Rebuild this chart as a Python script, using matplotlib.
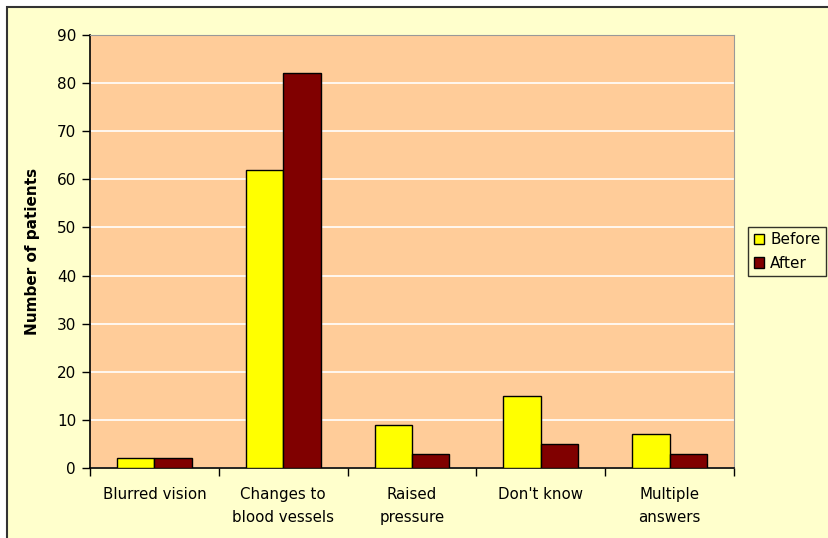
import numpy as np
import matplotlib.pyplot as plt
from matplotlib.patches import Rectangle

categories = ["Blurred vision", "Changes to\nblood vessels", "Raised\npressure",
              "Don't know", "Multiple\nanswers"]
before = [2, 62, 9, 15, 7]
after = [2, 82, 3, 5, 3]

W, H = 829, 538
fig = plt.figure(figsize=(W / 100, H / 100), dpi=100, facecolor="white")

# chart area frame (light yellow with dark border, clipped at right/bottom)
fig.patches.append(Rectangle((7 / W, -0.05), 1.1, 1 - 7 / H + 0.05,
                             transform=fig.transFigure, facecolor="#FFFFCC",
                             edgecolor="#333333", linewidth=1.5, zorder=-10))

ax = fig.add_axes([90 / W, 1 - 468 / H, (734 - 90) / W, (468 - 35) / H])
ax.set_facecolor("#FFCC99")

x = np.arange(len(categories))
bw = 0.29
ax.bar(x - bw / 2, before, bw, color="#FFFF00", edgecolor="black",
       linewidth=1, label="Before", zorder=3)
ax.bar(x + bw / 2, after, bw, color="#800000", edgecolor="black",
       linewidth=1, label="After", zorder=3)

ax.set_xlim(-0.5, len(categories) - 0.5)
ax.set_ylim(0, 90)
ax.set_yticks(range(0, 91, 10))
ax.yaxis.grid(True, color="white", linewidth=1.2, zorder=1)
ax.set_axisbelow(True)

# category separators as tick marks, labels centred under each group
ax.set_xticks(np.arange(-0.5, len(categories), 1.0))
ax.set_xticklabels([])
ax.set_xticks(x, minor=True)
ax.set_xticklabels(categories, minor=True, fontsize=10.8, linespacing=1.6)
ax.tick_params(axis="x", which="minor", length=0, pad=14)
ax.tick_params(axis="x", which="major", length=6, width=1, direction="out")
ax.tick_params(axis="y", length=6, width=1, labelsize=11, pad=4)

for side in ("top", "right"):
    ax.spines[side].set_color("#999999")
for side in ("left", "bottom"):
    ax.spines[side].set_color("black")
    ax.spines[side].set_linewidth(1.2)

ax.set_ylabel("Number of patients", fontsize=11, fontweight="bold", labelpad=12)

leg = ax.legend(loc="center left", bbox_to_anchor=(1.022, 0.50), frameon=True,
                fancybox=False, edgecolor="black", facecolor="#FFFFCC",
                fontsize=11, handlelength=0.7, handleheight=0.7,
                handletextpad=0.4, borderpad=0.35, labelspacing=0.55,
                borderaxespad=0)
leg.get_frame().set_linewidth(1)

fig.savefig("out.png", dpi=100, facecolor=fig.get_facecolor())
